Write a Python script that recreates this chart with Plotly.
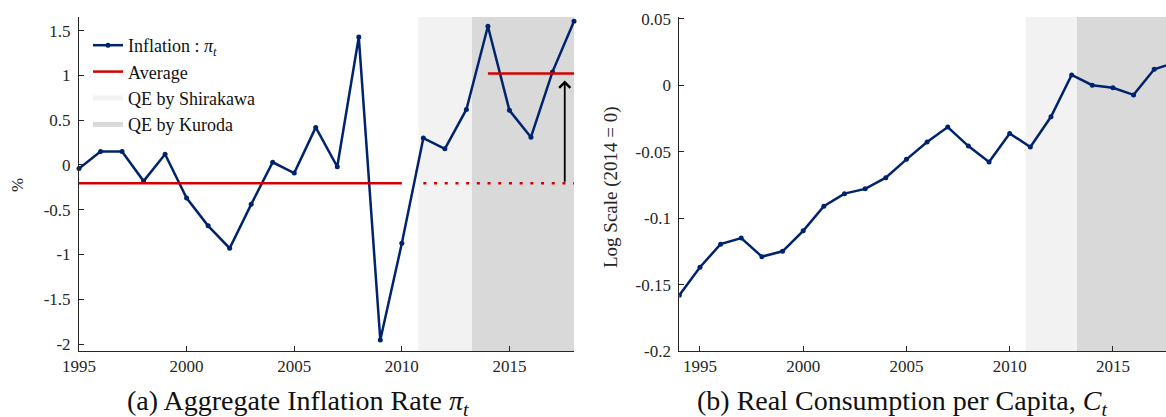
import plotly.graph_objects as go

# ---------------- data ----------------
years_a = list(range(1995, 2019))
inflation = [-0.04, 0.15, 0.15, -0.18, 0.12, -0.37, -0.68, -0.93, -0.44, 0.03,
             -0.09, 0.42, -0.02, 1.43, -1.955, -0.875, 0.30, 0.18, 0.62, 1.55,
             0.61, 0.31, 1.04, 1.605]

years_b = list(range(1994, 2019))
consumption = [-0.158, -0.137, -0.1196, -0.115, -0.129, -0.125, -0.1096, -0.091,
               -0.0816, -0.078, -0.0696, -0.0558, -0.0428, -0.0315, -0.0458,
               -0.0578, -0.0363, -0.0465, -0.0238, 0.0077, 0.0, -0.002, -0.0073,
               0.012, 0.017]

pre_start, pre_end = 1995, 2010
post_start, post_end = 2014, 2018
dotted_start = 2011
arrow_x = 2017.57

qe_shirakawa = (2010.77, 2013.26)
qe_kuroda = (2013.26, 2018.0)

ticks_a_x = [1995, 2000, 2005, 2010, 2015]
ticks_a_y = [1.5, 1, 0.5, 0, -0.5, -1, -1.5, -2]
ticktext_a_y = ["1.5", "1", "0.5", "0", "-0.5", "-1", "-1.5", "-2"]
ticks_b_x = [1995, 2000, 2005, 2010, 2015]
ticks_b_y = [0.05, 0, -0.05, -0.1, -0.15, -0.2]
ticktext_b_y = ["0.05", "0", "-0.05", "-0.1", "-0.15", "-0.2"]

# averages from data
pre_vals = [v for y, v in zip(years_a, inflation) if pre_start <= y <= pre_end]
post_vals = [v for y, v in zip(years_a, inflation) if post_start <= y <= post_end]
avg_pre = sum(pre_vals) / len(pre_vals)
avg_post = sum(post_vals) / len(post_vals)

# ---------------- style ----------------
NAVY = "#00236e"
RED = "#d40000"
LIGHT = "#f2f2f2"
DARK = "#d9d9d9"
AX = "#262626"
FONT = "Liberation Serif"

W, H = 1166, 417

fig = go.Figure()

fig.add_trace(go.Scatter(x=years_a, y=inflation, mode="lines+markers",
                         line=dict(color=NAVY, width=2.5),
                         marker=dict(color=NAVY, size=5),
                         name="Inflation : <i>π</i><sub><i>t</i></sub>",
                         cliponaxis=False, xaxis="x", yaxis="y"))
fig.add_trace(go.Scatter(x=[pre_start, pre_end], y=[avg_pre, avg_pre], mode="lines",
                         line=dict(color=RED, width=2.5), name="Average",
                         xaxis="x", yaxis="y"))
fig.add_trace(go.Scatter(x=[dotted_start, post_end], y=[avg_pre, avg_pre], mode="lines",
                         line=dict(color=RED, width=2.5, dash="3px,7.7px"),
                         showlegend=False, xaxis="x", yaxis="y"))
fig.add_trace(go.Scatter(x=[post_start, post_end], y=[avg_post, avg_post], mode="lines",
                         line=dict(color=RED, width=2.5), showlegend=False,
                         xaxis="x", yaxis="y"))
fig.add_trace(go.Scatter(x=[None], y=[None], mode="lines",
                         line=dict(color=LIGHT, width=5), name="QE by Shirakawa",
                         xaxis="x", yaxis="y"))
fig.add_trace(go.Scatter(x=[None], y=[None], mode="lines",
                         line=dict(color=DARK, width=5), name="QE by Kuroda",
                         xaxis="x", yaxis="y"))

fig.add_trace(go.Scatter(x=years_b, y=consumption, mode="lines+markers",
                         line=dict(color=NAVY, width=2.5),
                         marker=dict(color=NAVY, size=5), showlegend=False,
                         xaxis="x2", yaxis="y2"))

shapes = []
for xr, yr in (("x", "y domain"), ("x2", "y2 domain")):
    shapes.append(dict(type="rect", xref=xr, yref=yr, x0=qe_shirakawa[0], x1=qe_shirakawa[1],
                       y0=0, y1=1, fillcolor=LIGHT, line=dict(width=0), layer="below"))
    shapes.append(dict(type="rect", xref=xr, yref=yr, x0=qe_kuroda[0], x1=qe_kuroda[1],
                       y0=0, y1=1, fillcolor=DARK, line=dict(width=0), layer="below"))

axis_common = dict(showline=True, linecolor=AX, linewidth=1, ticks="inside", ticklen=5,
                   tickcolor=AX, showgrid=False, zeroline=False, automargin=False,
                   tickfont=dict(family=FONT, size=17, color=AX))

y_dom = [(H - 351) / H, (H - 17) / H]

fig.update_layout(
    width=W, height=H, margin=dict(l=0, r=0, t=0, b=0, pad=0, autoexpand=False),
    paper_bgcolor="white", plot_bgcolor="white",
    xaxis=dict(domain=[79 / W, 574 / W], range=[1995, 2018], tickvals=ticks_a_x,
               anchor="y", **axis_common),
    yaxis=dict(domain=y_dom, range=[-2.078, 1.653], tickvals=ticks_a_y,
               ticktext=ticktext_a_y, anchor="x", ticklabelstandoff=4, **axis_common),
    xaxis2=dict(domain=[679.3 / W, 1.0], range=[1994, 2017.57], tickvals=ticks_b_x,
                anchor="y2", **axis_common),
    yaxis2=dict(domain=y_dom, range=[-0.2, 0.0513], tickvals=ticks_b_y,
                ticktext=ticktext_b_y, anchor="x2", ticklabelstandoff=4, **axis_common),
    shapes=shapes,
    showlegend=True,
    legend=dict(x=88 / W, y=(H - 27) / H, xanchor="left", yanchor="top",
                bgcolor="rgba(0,0,0,0)", font=dict(family=FONT, size=18, color="#111"),
                itemwidth=30, tracegroupgap=0),
)

annotations = [
    dict(x=arrow_x, y=avg_post - 0.08, ax=arrow_x, ay=avg_pre, xref="x", yref="y",
         axref="x", ayref="y", showarrow=True, arrowhead=4, arrowsize=1.2,
         arrowwidth=1.8, arrowcolor="black", text=""),
    dict(x=17 / W, y=(H - 185) / H, xref="paper", yref="paper", text="%",
         xanchor="center", yanchor="middle",
         textangle=-90, showarrow=False, font=dict(family=FONT, size=17, color=AX)),
    dict(x=611 / W, y=(H - 187) / H, xref="paper", yref="paper", text="Log Scale (2014 = 0)",
         xanchor="center", yanchor="middle",
         textangle=-90, showarrow=False, font=dict(family=FONT, size=19, color=AX)),
    dict(x=298 / W, y=(H - 402) / H, xref="paper", yref="paper",
         xanchor="center", yanchor="middle",
         text="(a) Aggregate Inflation Rate <i>π</i><sub><i>t</i></sub>",
         showarrow=False, font=dict(family=FONT, size=28, color="#111")),
    dict(x=902 / W, y=(H - 402) / H, xref="paper", yref="paper",
         xanchor="center", yanchor="middle",
         text="(b) Real Consumption per Capita, <i>C</i><sub><i>t</i></sub>",
         showarrow=False, font=dict(family=FONT, size=28, color="#111")),
]
fig.update_layout(annotations=annotations)

fig.write_html("out.html", config={"displayModeBar": False},
               post_script="document.body.style.margin='0px';document.body.style.overflow='hidden';")
